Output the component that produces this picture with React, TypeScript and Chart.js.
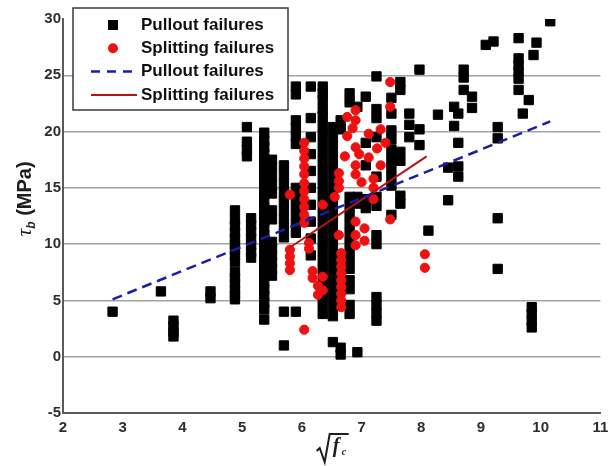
import React, { useEffect, useRef } from "react";
import { Chart, registerables } from "chart.js";

Chart.register(...registerables);

// √f'c of each group of pullout-failure specimens, and the bond stresses τb (MPa) of that group
const pulloutColumns: number[] = [
  2.83, 3.64, 3.85, 4.47, 4.88, 5.08, 5.15, 5.37, 5.5, 5.7, 5.9, 6.15, 6.35, 6.52, 6.65, 6.8,
  6.93, 7.07, 7.25, 7.5, 7.65, 7.8, 7.97, 8.12, 8.28, 8.45, 8.55, 8.62, 8.71, 8.85, 9.08, 9.21,
  9.28, 9.63, 9.7, 9.8, 9.85, 9.88, 9.93, 10.16,
];
const pulloutStress: number[][] = [
  [4.0],
  [5.8],
  [3.2, 2.7, 2.2, 1.8],
  [5.8, 5.2],
  [13.0, 12.2, 11.6, 11.0, 10.5, 10.0, 9.5, 9.0, 8.4, 7.5, 7.0, 6.5, 6.0, 5.5, 5.1],
  [20.4, 19.1, 18.4, 17.8],
  [12.3, 11.7, 11.1, 10.5, 9.9, 9.3, 8.8],
  [19.9, 19.2, 18.6, 18.0, 17.2, 16.4, 15.6, 15.0, 14.4, 13.8, 13.2, 12.6, 12.0, 11.4, 10.8, 10.2,
    9.6, 9.0, 8.4, 7.8, 7.2, 6.6, 6.0, 5.4, 4.8, 4.2, 3.3],
  [17.5, 16.8, 16.0, 15.2, 14.5, 13.0, 12.2, 10.2, 9.6, 9.0, 8.4, 7.8, 7.2],
  [17.0, 16.2, 15.4, 14.6, 13.8, 13.0, 12.2, 11.4, 10.6, 4.0, 1.0],
  [24.0, 23.3, 21.0, 20.3, 19.6, 18.9, 15.0, 14.2, 13.4, 12.6, 11.8, 11.0, 4.0],
  [24.0, 21.2, 19.5, 18.0, 16.5, 15.0, 13.5, 12.0, 10.5, 9.0],
  [24.0, 23.4, 22.8, 22.0, 21.4, 20.6, 19.8, 19.0, 18.2, 17.4, 16.6, 15.8, 15.0, 14.2, 13.4, 12.6,
    11.8, 11.0, 10.2, 9.4, 8.6, 7.8, 7.0, 6.2, 5.4, 4.6, 3.8],
  [20.4, 19.6, 18.8, 18.0, 17.2, 16.4, 15.6, 14.8, 14.0, 13.2, 12.4, 11.6, 10.8, 10.0, 9.2, 8.4,
    7.6, 6.8, 6.0, 5.2, 4.4, 3.6, 1.3],
  [21.0, 20.2, 0.8, 0.2],
  [23.4, 22.6, 14.2, 13.4, 12.6, 11.8, 11.0, 10.2, 9.4, 8.6, 7.8, 6.8, 6.0, 4.6, 3.8],
  [22.2, 14.2, 13.6, 0.4],
  [23.1, 19.0, 17.0, 14.0, 13.2],
  [24.9, 22.0, 21.2, 19.5, 16.0, 14.2, 13.4, 10.8, 10.0, 5.3, 4.6, 3.9, 3.2],
  [23.0, 21.6, 20.1, 19.3, 18.4, 17.6, 16.8, 16.0, 15.2, 12.6],
  [24.4, 23.7, 18.2, 17.4, 14.3, 13.6],
  [21.6, 20.6, 19.5],
  [25.5, 20.2, 18.8],
  [11.2],
  [21.5],
  [16.8, 13.9],
  [22.2, 20.5],
  [21.6, 19.0, 16.9, 16.0],
  [25.5, 24.8, 23.7],
  [23.1, 22.1],
  [27.7],
  [28.0],
  [20.4, 19.4, 12.3, 7.8],
  [28.3, 26.5, 25.9, 25.3, 24.7, 23.7],
  [21.6],
  [22.8],
  [4.4, 3.8, 3.2, 2.6],
  [26.8],
  [27.9],
  [29.8],
];

// √f'c of each group of splitting-failure specimens, and their bond stresses τb (MPa)
const splittingColumns: number[] = [
  5.8, 6.04, 6.12, 6.18, 6.27, 6.35, 6.55, 6.62, 6.66, 6.72, 6.76, 6.85, 6.9, 6.96, 7.0, 7.05,
  7.12, 7.2, 7.26, 7.32, 7.4, 7.48, 8.06,
];
const splittingStress: number[][] = [
  [14.4, 9.5, 8.9, 8.3, 7.7],
  [19.0, 18.3, 17.6, 16.9, 16.2, 15.4, 14.7, 14.0, 13.3, 12.6, 11.9, 2.4],
  [10.1, 9.6],
  [7.6, 7.0],
  [6.3, 5.5],
  [13.5, 7.1, 5.9],
  [14.2],
  [16.3, 15.6, 15.0, 10.8],
  [9.2, 8.6, 8.0, 7.4, 6.8, 6.2, 5.6, 5.0, 4.4],
  [17.8],
  [21.3, 19.6],
  [20.3],
  [21.9, 21.0, 18.6, 17.0, 16.2, 12.0, 10.8, 9.9],
  [18.0],
  [15.5],
  [11.4, 10.3],
  [19.8, 17.7],
  [15.8, 15.0, 14.0],
  [18.5],
  [20.2, 17.0],
  [19.0],
  [24.4, 22.2, 12.2],
  [9.1, 7.9],
];

// End points of the two linear regression lines
const pulloutFitX: number[] = [2.83, 10.16];
const pulloutFitY: number[] = [5.1, 20.9];
const splittingFitX: number[] = [5.8, 8.09];
const splittingFitY: number[] = [9.7, 17.8];

const xTicks: number[] = [2, 3, 4, 5, 6, 7, 8, 9, 10, 11];
const yTicks: number[] = [-5, 0, 5, 10, 15, 20, 25, 30];
const legendLabels: string[] = [
  "Pullout failures",
  "Splitting failures",
  "Pullout failures",
  "Splitting failures",
];

const PULLOUT_COLOR = "#000000";
const SPLIT_COLOR = "#ee1111";
const PULLOUT_FIT_COLOR = "#1c1ca6";
const SPLIT_FIT_COLOR = "#b41414";
const TEXT_COLOR = "#2e2e2e";

const toPoints = (cols: number[], vals: number[][]) =>
  cols.flatMap((x, i) => vals[i].map((y) => ({ x, y })));
const toLine = (xs: number[], ys: number[]) => xs.map((x, i) => ({ x, y: ys[i] }));

// Boxed legend in the upper-left corner of the plot
const boxLegend = {
  id: "boxLegend",
  afterDraw(chart: any) {
    const { ctx } = chart;
    const bx = 73;
    const by = 8;
    const bw = 215;
    const bh = 102;
    ctx.save();
    ctx.fillStyle = "#ffffff";
    ctx.fillRect(bx, by, bw, bh);
    ctx.strokeStyle = "#3a3a3a";
    ctx.lineWidth = 1.5;
    ctx.strokeRect(bx, by, bw, bh);

    const rowY = (i: number) => by + 17 + i * 23.3;
    const sampleL = bx + 18;
    const sampleR = bx + 64;
    const markX = bx + 40;

    // marker samples
    ctx.fillStyle = PULLOUT_COLOR;
    ctx.fillRect(markX - 5, rowY(0) - 5, 10, 10);
    ctx.fillStyle = SPLIT_COLOR;
    ctx.beginPath();
    ctx.arc(markX, rowY(1), 5, 0, Math.PI * 2);
    ctx.fill();

    // line samples
    ctx.strokeStyle = PULLOUT_FIT_COLOR;
    ctx.lineWidth = 2.5;
    ctx.setLineDash([9, 7]);
    ctx.beginPath();
    ctx.moveTo(sampleL, rowY(2));
    ctx.lineTo(sampleR, rowY(2));
    ctx.stroke();
    ctx.setLineDash([]);
    ctx.strokeStyle = SPLIT_FIT_COLOR;
    ctx.lineWidth = 2;
    ctx.beginPath();
    ctx.moveTo(sampleL, rowY(3));
    ctx.lineTo(sampleR, rowY(3));
    ctx.stroke();

    ctx.fillStyle = "#111111";
    ctx.font = 'bold 17px "Liberation Sans", Arial, sans-serif';
    ctx.textBaseline = "middle";
    ctx.textAlign = "left";
    legendLabels.forEach((t, i) => ctx.fillText(t, bx + 68, rowY(i)));
    ctx.restore();
  },
};

// Axis titles: τb (MPa) on the left, √f'c below
const axisTitles = {
  id: "axisTitles",
  afterDraw(chart: any) {
    const { ctx, chartArea } = chart;
    ctx.save();
    ctx.fillStyle = "#1e1e1e";
    ctx.strokeStyle = "#1e1e1e";

    // y title
    const cy = (chartArea.top + chartArea.bottom) / 2 - 17;
    const tauFont = 'italic 22px "Liberation Serif", serif';
    const subFont = 'italic bold 12px "Liberation Sans", sans-serif';
    const unitFont = 'bold 20px "Liberation Sans", Arial, sans-serif';
    ctx.font = tauFont;
    const wTau = ctx.measureText("τ").width;
    ctx.font = subFont;
    const wSub = ctx.measureText("b").width;
    ctx.font = unitFont;
    const wUnit = ctx.measureText(" (MPa)").width;
    const total = wTau + wSub + wUnit;
    ctx.translate(31, cy);
    ctx.rotate(-Math.PI / 2);
    ctx.textBaseline = "alphabetic";
    ctx.textAlign = "left";
    let x = -total / 2;
    ctx.font = tauFont;
    ctx.fillText("τ", x, 0);
    x += wTau;
    ctx.font = subFont;
    ctx.fillText("b", x, 4);
    x += wSub;
    ctx.font = unitFont;
    ctx.fillText(" (MPa)", x, 0);
    ctx.setTransform(1, 0, 0, 1, 0, 0);

    // x title: radical sign over f'c
    const cx = (chartArea.left + chartArea.right) / 2;
    const base = chartArea.bottom + 39;
    ctx.lineWidth = 2;
    ctx.lineJoin = "miter";
    ctx.beginPath();
    ctx.moveTo(cx - 15, base - 1);
    ctx.lineTo(cx - 12, base - 4);
    ctx.lineTo(cx - 7, base + 10);
    ctx.lineTo(cx - 2, base - 18);
    ctx.lineTo(cx + 17, base - 18);
    ctx.stroke();
    ctx.font = 'italic bold 20px "Liberation Serif", serif';
    ctx.textBaseline = "alphabetic";
    ctx.fillText("f", cx + 1, base);
    ctx.font = 'italic bold 10px "Liberation Serif", serif';
    ctx.fillText("c", cx + 10, base + 3);
    ctx.restore();
  },
};

export default function App() {
  const canvasRef = useRef<HTMLCanvasElement | null>(null);

  useEffect(() => {
    if (!canvasRef.current) return;
    const chart = new Chart(canvasRef.current, {
      type: "scatter",
      data: {
        datasets: [
          {
            label: "Pullout failures fit",
            data: toLine(pulloutFitX, pulloutFitY),
            showLine: true,
            borderColor: PULLOUT_FIT_COLOR,
            borderWidth: 2.5,
            borderDash: [10, 6],
            pointRadius: 0,
            order: 0,
          },
          {
            label: "Splitting failures fit",
            data: toLine(splittingFitX, splittingFitY),
            showLine: true,
            borderColor: SPLIT_FIT_COLOR,
            borderWidth: 2,
            pointRadius: 0,
            order: 1,
          },
          {
            label: "Splitting failures",
            data: toPoints(splittingColumns, splittingStress),
            pointStyle: "circle",
            pointRadius: 4.6,
            pointBorderWidth: 1,
            backgroundColor: SPLIT_COLOR,
            borderColor: SPLIT_COLOR,
            order: 2,
          },
          {
            label: "Pullout failures",
            data: toPoints(pulloutColumns, pulloutStress),
            pointStyle: "rect",
            pointRadius: 6.6,
            pointBorderWidth: 1,
            backgroundColor: PULLOUT_COLOR,
            borderColor: PULLOUT_COLOR,
            order: 3,
          },
        ],
      },
      options: {
        responsive: false,
        animation: false,
        layout: { padding: { top: 19, right: 6, left: 0, bottom: 0 } },
        plugins: {
          legend: { display: false },
          tooltip: { enabled: false },
        },
        scales: {
          x: {
            type: "linear",
            min: 2,
            max: 11,
            afterBuildTicks: (s: any) => {
              s.ticks = xTicks.map((v) => ({ value: v }));
            },
            afterFit: (s: any) => {
              s.height = 53;
              s.paddingLeft = 0;
              s.paddingRight = 0;
            },
            grid: { color: "rgba(0,0,0,0)", drawTicks: false },
            border: { display: true, color: "#5a5a5a", width: 2 },
            ticks: {
              padding: 6,
              color: TEXT_COLOR,
              font: { family: '"Liberation Sans", Arial, sans-serif', size: 15, weight: "bold" },
              maxRotation: 0,
            },
          },
          y: {
            type: "linear",
            min: -5,
            max: 30,
            afterBuildTicks: (s: any) => {
              s.ticks = yTicks.map((v) => ({ value: v }));
            },
            afterFit: (s: any) => {
              s.width = 63;
              s.paddingTop = 0;
              s.paddingBottom = 0;
            },
            grid: {
              drawTicks: false,
              lineWidth: 1.5,
              color: (c: any) =>
                c.tick && (c.tick.value === 30 || c.tick.value === -5)
                  ? "rgba(0,0,0,0)"
                  : "#a3a3a3",
            },
            border: { display: true, color: "#5a5a5a", width: 2 },
            ticks: {
              padding: 2,
              color: TEXT_COLOR,
              font: { family: '"Liberation Sans", Arial, sans-serif', size: 15, weight: "bold" },
            },
          },
        },
      },
      plugins: [boxLegend, axisTitles],
    });
    return () => chart.destroy();
  }, []);

  return (
    <div style={{ position: "absolute", left: 0, top: 0, width: 608, height: 466, background: "#fff" }}>
      <canvas ref={canvasRef} width={608} height={466} />
    </div>
  );
}
